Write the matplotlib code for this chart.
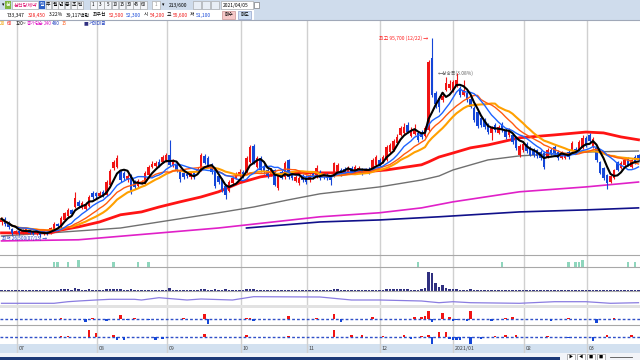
import matplotlib
matplotlib.use("Agg")
import matplotlib.pyplot as plt
from matplotlib.patches import Rectangle
import pandas as pd

plt.rcParams['font.family'] = ['Noto Sans CJK KR', 'DejaVu Sans']

# --- price data (thousand won), one candle per trading day ---
opens = [31.7, 32.8, 31.4, 29.3, 28.2, 28.6, 27.9, 28.6, 28.9, 28.6,
         27.9, 28.2, 27.5, 28.2, 27.9, 29.3, 31.0, 30.0, 32.4, 33.8,
         35.9, 36.9, 38.7, 36.6, 36.2, 37.3, 41.8, 41.8, 40.8, 42.2,
         41.1, 44.6, 50.5, 50.9, 49.1, 48.8, 46.3, 47.7, 45.6, 44.2,
         45.3, 45.3, 48.1, 50.9, 51.2, 52.6, 52.6, 53.3, 55.0, 51.6,
         51.6, 49.5, 48.8, 48.4, 47.4, 48.8, 49.1, 49.8, 54.7, 54.0,
         51.6, 49.8, 47.7, 46.3, 44.2, 42.5, 45.3, 47.0, 47.7, 49.1,
         49.1, 52.6, 58.2, 50.9, 54.0, 51.2, 49.8, 48.4, 49.8, 43.6,
         49.1, 47.4, 53.3, 48.1, 46.0, 45.3, 47.7, 47.4, 46.3, 48.4,
         47.4, 49.1, 48.4, 48.1, 47.7, 47.7, 49.1, 49.8, 50.2, 49.1,
         50.5, 49.5, 49.1, 49.8, 49.5, 50.2, 49.8, 51.6, 53.3, 52.6,
         53.3, 56.1, 56.8, 59.2, 62.0, 62.7, 65.5, 61.6, 62.3, 62.7,
         63.0, 61.6, 63.7, 88.8, 76.6, 74.9, 74.2, 77.7, 78.4, 77.7,
         79.0, 78.4, 75.9, 76.6, 74.5, 71.4, 70.0, 67.9, 67.2, 65.5,
         62.7, 65.5, 62.7, 65.8, 63.7, 62.0, 62.0, 61.0, 55.0, 56.8,
         58.9, 57.5, 56.8, 56.8, 56.1, 55.7, 54.3, 56.8, 57.8, 56.1,
         54.0, 54.0, 56.1, 56.8, 57.1, 56.8, 57.5, 61.0, 62.0, 57.8,
         57.5, 52.6, 50.5, 48.1, 45.6, 47.0, 52.6, 50.5, 51.6, 54.0,
         50.9, 54.3, 55.0]
closes = [32.8, 31.0, 30.0, 27.9, 28.6, 27.9, 28.9, 29.3, 27.9, 27.5,
          28.2, 27.2, 28.6, 27.5, 29.6, 31.0, 30.3, 33.1, 34.9, 35.9,
          34.5, 40.1, 37.3, 38.3, 38.0, 40.4, 40.4, 40.8, 41.8, 41.1,
          45.6, 49.5, 52.6, 54.0, 46.3, 47.0, 47.7, 42.2, 43.9, 46.0,
          45.6, 48.8, 50.9, 51.9, 52.3, 51.2, 54.3, 55.0, 51.6, 52.9,
          49.8, 46.7, 47.4, 47.7, 48.8, 47.4, 50.2, 55.0, 52.3, 50.9,
          49.1, 44.2, 45.6, 42.9, 41.1, 45.6, 47.0, 48.4, 49.1, 47.7,
          54.0, 57.8, 52.3, 54.0, 49.8, 49.1, 47.7, 49.8, 44.6, 48.1,
          47.0, 52.3, 47.4, 47.0, 47.4, 47.0, 46.3, 45.6, 47.7, 47.4,
          50.5, 47.0, 47.4, 47.0, 46.3, 52.3, 51.6, 48.4, 49.1, 50.5,
          49.1, 50.9, 50.5, 48.8, 49.8, 49.1, 53.3, 54.3, 51.2, 54.3,
          57.8, 58.5, 59.9, 61.3, 64.4, 64.8, 63.0, 63.7, 64.1, 60.3,
          61.3, 64.4, 87.4, 75.9, 72.8, 71.7, 75.6, 80.1, 79.7, 80.4,
          81.1, 75.9, 77.7, 74.2, 71.7, 67.2, 65.1, 65.5, 64.8, 63.0,
          64.4, 63.7, 64.8, 63.7, 61.3, 63.7, 59.6, 57.5, 58.2, 58.9,
          56.4, 55.0, 55.0, 54.7, 54.0, 50.9, 56.8, 55.7, 55.7, 54.0,
          55.7, 55.0, 54.3, 59.2, 55.7, 59.6, 61.0, 58.2, 59.9, 60.6,
          53.3, 48.8, 47.0, 45.3, 47.7, 49.8, 49.8, 52.3, 53.3, 51.6,
          53.3, 52.3, 53.3]
highs = [33.5, 33.5, 31.9, 29.6, 29.0, 29.0, 29.3, 29.6, 29.3, 29.0,
         28.9, 28.6, 29.0, 28.6, 30.0, 31.7, 31.4, 33.8, 35.2, 36.6,
         36.3, 42.2, 39.4, 39.0, 38.7, 41.1, 42.5, 42.2, 42.5, 42.9,
         46.3, 50.2, 53.3, 55.0, 49.8, 49.5, 48.4, 48.4, 46.3, 46.6,
         46.3, 49.5, 51.6, 53.0, 53.0, 53.7, 55.0, 55.7, 60.3, 53.7,
         52.3, 50.2, 49.5, 49.1, 49.5, 49.1, 50.9, 55.7, 55.4, 54.7,
         52.3, 50.5, 48.4, 47.0, 44.9, 46.3, 47.7, 49.1, 50.2, 49.8,
         54.7, 58.5, 58.9, 54.7, 54.7, 51.9, 50.5, 50.5, 50.2, 48.8,
         49.8, 53.0, 53.7, 48.8, 48.1, 47.7, 48.4, 48.1, 48.4, 49.1,
         51.6, 49.8, 48.8, 48.8, 48.1, 52.6, 52.3, 50.5, 50.9, 51.2,
         51.2, 51.6, 51.2, 50.5, 50.5, 50.9, 54.0, 55.0, 54.0, 55.0,
         58.5, 59.2, 60.6, 62.4, 65.1, 66.2, 66.5, 64.8, 65.8, 63.4,
         63.7, 65.1, 88.1, 95.7, 77.3, 75.5, 77.0, 82.2, 81.1, 81.1,
         83.6, 79.0, 81.1, 77.3, 75.2, 72.1, 70.7, 68.6, 67.9, 66.2,
         65.1, 66.2, 65.5, 66.5, 64.4, 64.4, 62.7, 61.6, 58.9, 59.6,
         59.6, 58.2, 57.5, 57.1, 56.8, 56.4, 57.5, 57.5, 58.5, 56.8,
         56.4, 55.7, 56.8, 59.9, 57.8, 60.3, 62.0, 61.6, 62.7, 61.3,
         57.8, 53.0, 50.9, 48.4, 48.1, 50.2, 53.0, 53.0, 54.0, 54.3,
         53.7, 55.0, 55.4]
lows = [30.7, 30.3, 29.3, 27.2, 27.6, 27.2, 27.6, 28.2, 27.6, 27.0,
        27.2, 26.5, 27.2, 27.0, 27.6, 29.0, 29.6, 29.6, 32.1, 33.5,
        34.2, 36.6, 36.6, 36.2, 35.9, 37.0, 39.7, 40.1, 40.4, 40.4,
        40.8, 44.2, 49.8, 50.5, 45.6, 46.3, 45.6, 41.5, 43.2, 43.9,
        44.9, 44.9, 47.7, 50.5, 50.9, 50.9, 52.3, 52.6, 51.2, 50.9,
        49.1, 45.6, 46.7, 47.0, 46.7, 46.7, 48.8, 49.5, 51.9, 50.5,
        48.4, 43.5, 44.9, 42.2, 39.7, 42.2, 44.9, 46.7, 47.4, 47.0,
        48.8, 52.3, 51.9, 50.5, 49.1, 48.4, 47.0, 47.7, 44.2, 42.9,
        46.7, 46.7, 46.7, 46.3, 45.6, 44.6, 45.6, 44.9, 45.6, 46.7,
        47.0, 46.3, 46.7, 46.3, 44.6, 47.4, 48.8, 47.7, 48.8, 48.8,
        48.4, 49.1, 48.8, 48.1, 49.1, 48.4, 49.5, 51.2, 50.9, 52.3,
        53.0, 55.7, 56.4, 58.9, 61.7, 62.4, 62.7, 61.3, 62.0, 59.6,
        60.6, 61.3, 63.4, 75.2, 71.4, 69.9, 73.5, 77.3, 77.7, 77.0,
        78.7, 75.2, 75.6, 73.5, 71.4, 66.5, 64.4, 64.8, 64.1, 62.4,
        60.3, 63.0, 62.4, 63.0, 60.6, 61.3, 58.9, 56.8, 54.3, 56.1,
        55.7, 54.7, 54.3, 54.0, 53.3, 50.2, 54.0, 55.0, 55.0, 53.3,
        53.7, 53.7, 53.7, 56.4, 55.4, 56.4, 57.1, 57.8, 59.6, 57.5,
        52.6, 48.4, 46.3, 43.2, 45.3, 46.7, 49.5, 50.2, 51.2, 51.2,
        50.5, 51.9, 53.0]

# long moving averages at sample candles
ma60_idx = [0, 14, 17, 22, 28, 34, 40, 45, 51, 57, 62, 68, 74, 82, 91, 100, 110,
            120, 122, 125, 129, 134, 139, 143, 148, 158, 167, 172, 177, 182]
ma60_val = [27.9, 27.9, 28.9, 30.0, 31.7, 34.2, 35.2, 36.9, 38.7, 40.4, 42.2, 45.3,
            47.4, 48.8, 48.8, 48.8, 49.8, 51.6, 52.6, 54.3, 55.7, 57.5, 58.5, 59.6,
            61.0, 62.0, 63.0, 62.7, 61.3, 60.3]
ma120_idx = [0, 14, 34, 62, 72, 82, 91, 108, 120, 125, 129, 139, 148, 158, 169, 182]
ma120_val = [26.8, 27.9, 29.6, 34.9, 36.9, 39.4, 41.5, 43.9, 46.3, 47.7, 49.8,
             53.3, 54.7, 55.4, 56.1, 56.4]
ma240_idx = [0, 22, 62, 91, 108, 120, 129, 148, 167, 182]
ma240_val = [25.1, 25.5, 29.6, 33.5, 34.9, 36.6, 38.7, 42.2, 43.9, 45.6]
ma480_idx = [70, 91, 108, 125, 148, 167, 182]
ma480_val = [29.6, 31.7, 32.4, 33.5, 35.2, 35.9, 36.6]

# volume (bar height units)
volume = [1.5, 1, 1, 1, 1, 1, 1, 1, 1, 1,
          1, 1, 1, 1, 1.5, 1.5, 1, 2, 2, 2,
          1.5, 3, 2, 1.5, 1.5, 2, 1.5, 1.5, 1, 1,
          2, 2.5, 2.5, 2, 2, 1.5, 1.5, 2, 1.5, 1,
          1, 1.5, 1.5, 1.5, 1, 1, 1.5, 1.5, 3, 1.5,
          1.5, 1.5, 1, 1, 1, 1, 1, 2.5, 2, 1.5,
          1.5, 2, 1.5, 1.5, 2, 1.5, 1, 1, 1, 1,
          2, 2, 2, 1.5, 1.5, 1, 1, 1, 1.5, 1.5,
          1, 1.5, 1.5, 1, 1, 1, 1, 1, 1, 1,
          1.5, 1, 1, 1, 1, 2.5, 2, 1, 1, 1,
          1, 1, 1, 1, 1, 1, 1.5, 1.5, 1, 1.5,
          2, 2, 2.5, 2, 2.5, 2, 2, 1.5, 1.5, 1.5,
          2, 3, 19, 18, 8, 4, 6, 3, 2, 2,
          2, 1.5, 1.5, 1.5, 2, 1.5, 1.5, 1.5, 1, 1,
          1.5, 1, 1, 1, 1, 1, 1, 1.5, 1.5, 1,
          1, 1, 1, 1, 1, 1.5, 1, 1, 1, 1,
          1, 1, 1, 1, 1, 1, 1.5, 1, 1, 1,
          1.5, 1.5, 1, 1, 1, 1, 1, 1, 1, 1,
          1, 1, 1]

# trading value line (sampled)
line_idx = [0, 5, 15, 19, 22, 27, 31, 38, 40, 45, 53, 57, 66, 72, 91, 100, 108,
            120, 122, 125, 129, 134, 148, 158, 167, 174, 182]
line_val = [1.7, 1.7, 1.7, 3.3, 4.0, 5.0, 5.7, 5.7, 5.0, 7.3, 5.0, 6.0, 5.0, 8.3,
            8.0, 5.0, 5.0, 4.0, 3.3, 2.3, 3.3, 2.3, 1.7, 3.3, 3.3, 1.7, 2.3]

# signal bars (teal)
sig_idx = [15, 16, 19, 22, 32, 39, 42, 119, 143, 162, 164, 165, 166, 179, 181]
sig_val = [5, 5, 5, 7, 5, 5, 5, 5, 5, 5, 5, 5, 7, 5, 5]

# net buying, two investor groups
frg_idx = [17, 24, 26, 30, 34, 36, 38, 42, 52, 58, 59, 70, 71, 72, 82, 90, 95, 97,
           106, 118, 120, 121, 122, 123, 126, 128, 129, 130, 133, 134, 140, 144,
           146, 157, 162, 170, 175]
frg_val = [1.5, -3, 1, -2, 4, -1, 1.5, -1, 1, 5, -5, 1.5, 1.5, -2, 3, 1, 5, -3,
           2, 2.5, 2.5, 3.5, 8, -3, 6, 2, -2, -1, -2, 8, -2, 1, 2, -2, 1, -4, 1]
ins_idx = [17, 19, 25, 27, 32, 33, 35, 44, 46, 58, 70, 82, 95, 100, 103, 109, 115,
           117, 120, 122, 123, 125, 127, 128, 129, 130, 131, 134, 137, 141, 144,
           147, 156, 162, 169, 173, 180]
ins_val = [1, 1, 7, 4, 2, -3, -3, -3, -2, 3, 2, 1, 7, 2, 2, 1, 2, -2, 1, 2, -7,
           5, 5, -2, -3, -3, -3, -7, -2, 1, 2, 2, 1, -1, -4, 2, 2]

month_pos = [4.4, 27.3, 47.3, 68.4, 87.3, 108.1, 129.0, 149.3, 167.3]
month_lbl = ["07", "08", "09", "10", "11", "12", "2021/01", "02", "03"]

W, H = 640, 360
RED = '#f01414'
BLUE = '#1446d8'
GRID = '#d0d0d0'
XMIN, XMAX = -1.5 / 3.5, (W - 1.5) / 3.5

fig = plt.figure(figsize=(6.4, 3.6), dpi=100)
fig.patch.set_facecolor('white')


def px_axes(y0, y1):
    ax = fig.add_axes([0, 1 - y1 / H, 1, (y1 - y0) / H])
    ax.set_xlim(XMIN, XMAX)
    ax.set_axis_off()
    for m in month_pos:
        ax.axvline(m, color=GRID, lw=1.0, zorder=0.5)
    return ax


def rect(x, y, w, h, fc, ec='none', lw=0.6, z=0):
    fig.patches.append(Rectangle((x / W, 1 - (y + h) / H), w / W, h / H,
                                 transform=fig.transFigure, fc=fc, ec=ec, lw=lw, zorder=z))


def txt(x, y, s, color='black', size=3.6, ha='left', **kw):
    fig.text(x / W, 1 - y / H, s, color=color, fontsize=size, ha=ha, va='center', **kw)


n = len(closes)
idx = list(range(n))
close_s = pd.Series(closes)

# --- main price panel ---
ax = px_axes(20, 255)
ax.set_ylim(20.2, 102.0)
for i in idx:
    up = closes[i] >= opens[i]
    c = RED if up else BLUE
    ax.vlines(i, lows[i], highs[i], color=c, lw=0.8, zorder=3)
    lo, hi = min(opens[i], closes[i]), max(opens[i], closes[i])
    ax.bar(i, max(hi - lo, 0.25), bottom=lo, width=0.72, color=c, lw=0, zorder=4)

ax.plot(ma480_idx, ma480_val, color='#10108a', lw=1.2, zorder=2)
ax.plot(ma240_idx, ma240_val, color='#e020c8', lw=1.2, zorder=2)
ax.plot(ma120_idx, ma120_val, color='#707070', lw=1.0, zorder=2)
ax.plot(ma60_idx, ma60_val, color='#ff1414', lw=2.0, zorder=2)
ax.plot(idx, close_s.rolling(20, min_periods=1).mean(), color='#ffa000', lw=1.5, zorder=5)
ax.plot(idx, close_s.rolling(15, min_periods=1).mean(), color='#ff5a10', lw=1.0, zorder=5)
ax.plot(idx, close_s.rolling(10, min_periods=1).mean(), color='#1e64ff', lw=1.0, zorder=5)
ax.plot(idx, close_s.rolling(5, min_periods=1).mean(), color='black', lw=1.5, zorder=6)

ax.text(122.0, 95.7, "최고 95,700 (12/22) →", color='#ff2020', fontsize=3.6,
        ha='right', va='center', zorder=7)
ax.text(124.8, 83.4, "←상승폭(3.08%)", color='#606060', fontsize=3.5, ha='left',
        va='center', zorder=7)
ax.text(0.2, 26.0, "최저 26,500(07/13) →", color='#2040c0', fontsize=3.4, ha='left',
        va='center', zorder=7)

# --- signal panel ---
ax2 = px_axes(255, 267)
ax2.set_ylim(0, 12)
ax2.bar(sig_idx, sig_val, width=0.8, color='#8fd6bd', lw=0)

# --- volume panel ---
ax3 = px_axes(267, 291)
ax3.set_ylim(0, 24)
ax3.bar(idx, volume, width=0.72, color='#303080', lw=0)

ax4 = px_axes(291, 305)
ax4.set_ylim(0, 14)
ax4.plot(line_idx, line_val, color='#8a7ce0', lw=0.9)

# --- net buying panels ---
ax5 = px_axes(308, 325)
ax5.set_ylim(-6, 11)
ax5.axhline(0, color='#3050c8', lw=1.0, dashes=(2, 1.5), zorder=1)
ax5.bar(frg_idx, frg_val, width=0.72, color=[RED if v > 0 else BLUE for v in frg_val], lw=0, zorder=2)

ax6 = px_axes(325, 344)
ax6.set_ylim(-7, 12)
ax6.axhline(0, color='#3050c8', lw=1.0, dashes=(2, 1.5), zorder=1)
ax6.bar(ins_idx, ins_val, width=0.72, color=[RED if v > 0 else BLUE for v in ins_val], lw=0, zorder=2)

# panel separators
for y in (255, 267, 291, 325):
    fig.add_artist(plt.Line2D([0, 1], [1 - y / H, 1 - y / H], color='#a8a8a8', lw=0.8))
rect(0, 305, W, 3, '#e2e2e2')

# --- x axis band ---
axx = px_axes(344, 353)
axx.set_ylim(0, 1)
axx.add_patch(Rectangle((XMIN, 0), XMAX - XMIN, 1, fc='#d3e1f0', ec='none', zorder=-1))
for m, lb in zip(month_pos, month_lbl):
    axx.text(m + 0.5, 0.5, lb, fontsize=3.8, color='#404040', va='center', ha='left')

# bottom bar
rect(0, 353, W, 7, '#f2f4f8')
rect(0, 357, 560, 3, '#1e3a78')
for k, s in enumerate(["▶", "◀", "■", "■"]):
    rect(567 + k * 10, 354, 8, 6, 'white', ec='#808080', lw=0.4)
    txt(571 + k * 10, 357, s, size=3.0, ha='center')
fig.add_artist(plt.Line2D([610 / W, 632 / W], [1 - 357 / H] * 2, color='#505050', lw=0.6))

# --- toolbar ---
rect(0, 0, W, 20, '#cfdcec')
fig.add_artist(plt.Line2D([0, 1], [1 - 20 / H] * 2, color='#a0a8b8', lw=0.8))
txt(1.5, 5, "▾", size=3.4)
rect(5, 1, 6, 8, '#7fb640')
txt(8, 5, "삼", color='white', size=3.6, ha='center')
rect(12, 1, 26, 8, 'white', ec='#a0a0a0', lw=0.4)
txt(13.5, 5, "삼천당제약", color='#e0207a', size=3.7)
rect(39, 1, 6, 8, '#2f62c8')
txt(42, 5, "일", color='white', size=3.5, ha='center')
for k, s in enumerate(["주", "월", "년", "분", "초", "틱"]):
    rect(45.6 + k * 6.3, 1, 5.8, 8, '#f4f6fa', ec='#a0a0a0', lw=0.4)
    txt(48.5 + k * 6.3, 5, s, size=3.5, ha='center')
for k, s in enumerate(["1", "3", "5", "10", "15", "30", "45", "60"]):
    rect(90 + k * 7.2, 1, 6.6, 8, '#f4f6fa', ec='#a0a0a0', lw=0.4)
    txt(93.3 + k * 7.2, 5, s, size=3.3, ha='center')
rect(152, 1, 8, 8, 'white', ec='#a0a0a0', lw=0.4)
txt(156, 5, "1", color='#909090', size=3.4, ha='center')
txt(162, 5, "▾", size=3.4)
txt(169, 5, "213/600", size=3.6)
for k in range(3):
    rect(193 + k * 9, 1, 8, 8, '#e8eef6', ec='#a0a0a0', lw=0.4)
rect(221, 1, 32, 8, 'white', ec='#a0a0a0', lw=0.4)
txt(222.5, 5, "2021/04/05", size=3.5)
rect(254, 2, 5, 6, 'white', ec='#606060', lw=0.4)

rect(0, 10, 254, 10, 'white')
row2 = [(7, "733,347", 'black'), (28, "328,450", RED), (49, "3.22%", 'black'),
        (66, "39,117백만", 'black'), (93, "최우선", 'black'), (109, "52,500", RED),
        (126, "52,300", BLUE), (144, "시", 'black'), (150, "54,200", RED),
        (167, "고", 'black'), (173, "55,600", RED), (190, "저", 'black'),
        (196, "51,100", BLUE)]
for x, s, c in row2:
    txt(x, 15, s, color=c, size=3.5)
rect(222, 11, 13, 8, '#f6c8c8', ec='#c08080', lw=0.4)
txt(228.5, 15, "매수", size=3.4, ha='center')
rect(238, 11, 13, 8, '#cfe0f6', ec='#8090c0', lw=0.4)
txt(244.5, 15, "매도", size=3.4, ha='center')

# legend row
legend = [(0, "20", '#f0a000'), (7, "60", RED), (16, "120", 'black'), (23, "~", 'black'),
          (27, "종가", '#e020c8'), (35, "단순", '#e020c8'), (44, "240", '#e020c8'),
          (52, "480", '#2040c0'), (62, "15", '#ff6020'), (84, "■", '#303080'),
          (89, "거래대금", '#2040c0')]
for x, s, c in legend:
    txt(x, 23.5, s, color=c, size=3.4)

fig.savefig("out.png", dpi=100)
